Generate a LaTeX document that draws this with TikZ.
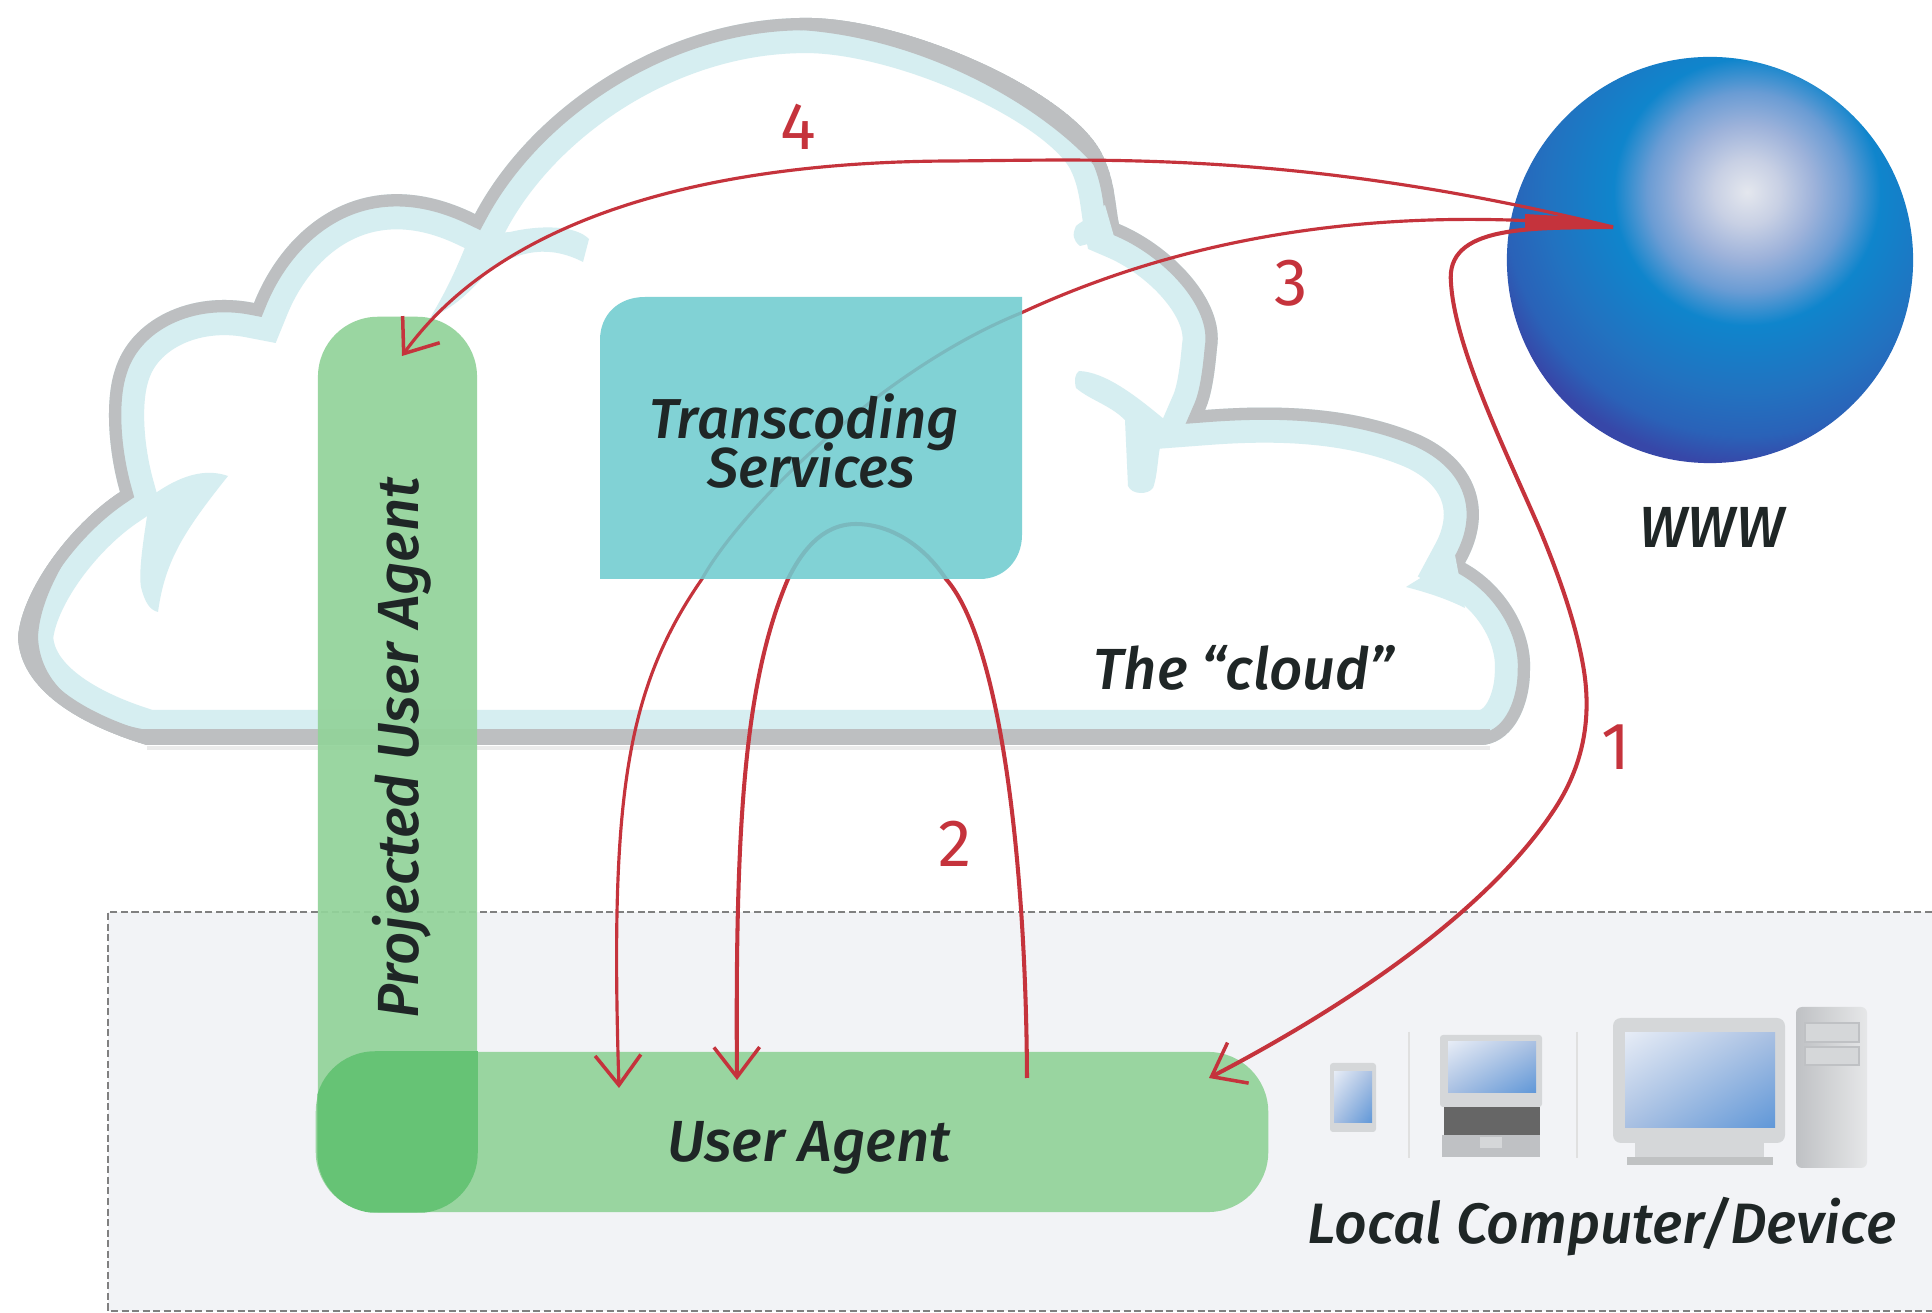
\documentclass[tikz,border=0pt]{standalone}
\usepackage{fontspec}
\setmainfont{Fira Sans}[ItalicFont={Fira Sans Medium Italic}]
\usetikzlibrary{arrows.meta,shadings}
\definecolor{cloudgray}{HTML}{BDBFC1}
\definecolor{cloudband}{HTML}{D6EEF1}
\definecolor{redline}{HTML}{C5333C}
\definecolor{agentgreen}{HTML}{93D39A}
\definecolor{overlapgreen}{HTML}{66C375}
\definecolor{transteal}{HTML}{70CCD0}
\definecolor{localgray}{HTML}{F2F3F6}
\definecolor{inkdark}{HTML}{1F2626}
\definecolor{caselight}{HTML}{D5D7D9}
\definecolor{casemid}{HTML}{BFC1C4}
\definecolor{screenlight}{HTML}{E6ECF6}
\definecolor{screenmid}{HTML}{A9C0E2}
\definecolor{screendeep}{HTML}{5F97D8}
\definecolor{globea}{HTML}{E4E7EE}
\definecolor{globeh}{HTML}{C8D0E4}
\definecolor{globeb}{HTML}{9DB2DA}
\definecolor{globec}{HTML}{6A9CD4}
\definecolor{globed}{HTML}{0F85CC}
\definecolor{globee}{HTML}{2272C0}
\definecolor{globef}{HTML}{2A62B8}
\definecolor{globeg}{HTML}{3747A8}
\pgfdeclareradialshading{globeglow}{\pgfpointorigin}{
  color(0bp)=(globea);
  color(2.85bp)=(globeh);
  color(5.8bp)=(globeb);
  color(8.6bp)=(globec);
  color(11.5bp)=(globed);
  color(17.25bp)=(globee);
  color(21bp)=(globef);
  color(23.5bp)=(globeg);
  color(50bp)=(globeg)}
\newcommand{\cloudoutline}{(147,745) .. controls (80,725) and (20,690) .. (18,637)
  .. controls (22,590) and (70,525) .. (120,492)
  .. controls (108,450) and (105,400) .. (115,370)
  .. controls (130,320) and (190,290) .. (254,303)
  .. controls (285,225) and (365,160) .. (475,214)
  .. controls (530,110) and (660,20) .. (800,18)
  .. controls (900,15) and (1070,90) .. (1102,154)
  .. controls (1115,180) and (1115,205) .. (1119,224)
  .. controls (1170,245) and (1225,300) .. (1217,348)
  .. controls (1215,370) and (1212,395) .. (1205,410)
  .. controls (1270,405) and (1350,405) .. (1420,435)
  .. controls (1475,460) and (1495,510) .. (1465,563)
  .. controls (1505,585) and (1532,630) .. (1530,670)
  .. controls (1530,710) and (1510,745) .. (1480,745) -- cycle}
\tikzset{
  flow/.style={draw=redline,line width=1.15pt,{Straight Barb[length=8.5pt,width=13pt,line width=1pt]}-},
  thinflow/.style={flow,line width=.9pt},
  agentbox/.style={shape=rectangle,fill=agentgreen,fill opacity=.93,rounded corners=.6cm,inner sep=0pt},
  label/.style={inkdark,font=\fontsize{16.5}{18}\selectfont\itshape},
  stepnum/.style={redline,font=\fontsize{19}{20}\selectfont},
  devcase/.style={fill=caselight,rounded corners=.03cm},
  devscreen/.style={upper left=screenlight,upper right=screenmid,lower left=screenmid,lower right=screendeep}
}
\begin{document}
\begin{tikzpicture}[x=.01cm,y=-.01cm]
\useasboundingbox (0,0) rectangle (1932,1313);
\fill[white] (0,0) rectangle (1932,1313);

\fill[localgray] (108,912) rectangle (1932,1311);
\draw[gray,line width=.5pt,dash pattern=on 2pt off 1pt] (1932,912) -- (108,912) -- (108,1311) -- (1932,1311);

\fill[white] \cloudoutline;
\begin{scope}
\clip \cloudoutline;
\draw[cloudband,line width=20pt,miter limit=6] \cloudoutline;
\draw[cloudgray,line width=7pt,miter limit=4] \cloudoutline;
\fill[cloudgray] (120,729) rectangle (1490,746);
\fill[cloudgray] (120,492) .. controls (70,525) and (22,590) .. (18,637) .. controls (20,690) and (80,725) .. (147,745) -- (147,730) .. controls (90,720) and (40,690) .. (38,637) .. controls (40,590) and (80,530) .. (120,492) -- cycle;
\fill[cloudgray] (800,18) .. controls (900,15) and (1070,90) .. (1102,154) .. controls (1110,170) and (1112,180) .. (1115,195) .. controls (1085,135) and (950,40) .. (800,30) -- cycle;
\end{scope}
\fill[black!8] (147,746) rectangle (1490,750);

\fill[cloudband] (228,476) .. controls (205,468) and (180,475) .. (150,497) .. controls (145,530) and (138,570) .. (141,587) .. controls (145,603) and (150,610) .. (158,612) .. controls (165,560) and (185,530) .. (228,476) -- cycle;
\fill[cloudband] (510,232) .. controls (540,225) and (575,225) .. (589,239) -- (583,262) .. controls (550,245) and (520,250) .. (490,270) .. controls (475,285) and (460,305) .. (430,318) .. controls (450,285) and (460,260) .. (470,235) -- cycle;
\fill[cloudband] (1079,371) .. controls (1105,372) and (1135,395) .. (1165,420) -- (1159,453) .. controls (1157,470) and (1156,480) .. (1153,488) .. controls (1148,495) and (1132,495) .. (1128,486) -- (1125,420) .. controls (1110,405) and (1090,400) .. (1076,388) .. controls (1074,380) and (1075,374) .. (1079,371) -- cycle;
\fill[cloudband] (1105,205) .. controls (1095,215) and (1080,222) .. (1076,226) .. controls (1072,235) and (1073,240) .. (1080,246) .. controls (1095,242) and (1105,240) .. (1115,240) -- cycle;
\fill[cloudband] (1455,555) .. controls (1435,570) and (1420,578) .. (1406,587) .. controls (1425,592) and (1445,598) .. (1465,608) -- cycle;

\node(globecenter) at (1710,260)[shape=circle,minimum size=4.06cm,inner sep=0pt] {};
\coordinate(globehigh) at (1747,192);
\begin{scope}
\clip (globecenter) circle (2.03cm);
\shade[shading=globeglow] (globehigh) circle (2.9cm);
\end{scope}

\node(pua) at (397.5,764.5)[agentbox,minimum width=1.59cm,minimum height=8.95cm] {};
\node(ua) at (792,1132)[agentbox,minimum width=9.52cm,minimum height=1.6cm] {};
\begin{scope}
\clip[rounded corners=.6cm] (pua.south west) rectangle (pua.north east);
\fill[overlapgreen,rounded corners=.6cm] (ua.south west) rectangle (ua.north east);
\end{scope}

\coordinate(wwwtip) at (1613,227);
\coordinate(puatip) at (402,356);
\coordinate(uatip1) at (1209,1078);
\coordinate(uatip3) at (619,1088);
\coordinate(uatip2) at (737,1080);
\coordinate(uastart) at (1027,1078);

\path [thinflow]
  (puatip) .. controls (500,220) and (700,162) .. (950,161)
           .. controls (1100,160) and (1300,150) .. (wwwtip);
\path [thinflow]
  (uatip3) .. controls (610,800) and (625,690) .. (702,579)
           .. controls (740,510) and (880,370) .. (1021,313)
           .. controls (1200,230) and (1400,205) .. (wwwtip);
\path [flow]
  (uatip1) .. controls (1330,1015) and (1480,920) .. (1552,813)
           .. controls (1585,765) and (1592,715) .. (1583,665)
           .. controls (1576,625) and (1560,578) .. (1540,530)
           .. controls (1510,460) and (1455,350) .. (1451,283)
           .. controls (1445,225) and (1530,228) .. (wwwtip);
\path [flow]
  (uatip2) .. controls (735,820) and (745,680) .. (788,579)
           .. controls (800,555) and (820,524) .. (856,524)
           .. controls (885,524) and (920,540) .. (946,579)
           .. controls (1000,640) and (1026,860) .. (uastart);
\fill[redline] (1525,214) -- (1560,216) -- (wwwtip) -- (1560,229) -- (1525,228) -- cycle;

\fill[transteal,fill opacity=.88] (600,579) -- (600,340) .. controls (600,315) and (618,297) .. (645,297) -- (1022,297) -- (1022,535) .. controls (1022,560) and (1004,579) .. (980,579) -- cycle;

\node(trans) at (804,441)[label,font=\fontsize{16}{18}\selectfont\itshape,align=center] {Transcoding\\[-4pt]\hspace*{4pt}Services};
\node(pualabel) at (402,748)[label,rotate=90] {Projected User Agent};
\node(ualabel) at (809,1148)[label] {User Agent};
\node(cloudlabel) at (1244,668)[label] {The “cloud”};
\node(wwwlabel) at (1712,527)[label] {WWW};
\node(locallabel) at (1602,1227)[label,font=\fontsize{16.2}{18}\selectfont\itshape] {Local Computer/Device};
\node(num4) at (798,127)[stepnum] {4};
\node(num3) at (1291,283)[stepnum] {3};
\node(num1) at (1616,747)[stepnum] {1};
\node(num2) at (955,844)[stepnum] {2};

\fill[devcase] (1330,1063) rectangle (1376,1132);
\shade[devscreen] (1334,1072) rectangle (1372,1123);
\draw[black!12,line width=.4pt] (1409,1032) -- (1409,1158);
\draw[black!12,line width=.4pt] (1577,1032) -- (1577,1158);
\fill[devcase] (1440,1035) rectangle (1542,1107);
\shade[devscreen] (1448,1042) rectangle (1536,1093);
\fill[black!60] (1444,1107) rectangle (1540,1135);
\fill[casemid] (1442,1135) rectangle (1540,1157);
\fill[caselight] (1480,1137) rectangle (1502,1148);
\fill[caselight] (1635,1143) rectangle (1764,1157);
\fill[caselight!90!black] (1627,1157) rectangle (1773,1165);
\fill[devcase,rounded corners=.08cm] (1613,1018) rectangle (1785,1143);
\shade[devscreen] (1625,1033) rectangle (1775,1128);
\shade[left color=casemid,right color=caselight!60!white,rounded corners=.06cm] (1796,1007) rectangle (1867,1168);
\draw[casemid,fill=caselight,line width=.4pt] (1805,1023) rectangle (1859,1042);
\draw[casemid,fill=caselight,line width=.4pt] (1805,1047) rectangle (1859,1065);

\end{tikzpicture}
\end{document}
